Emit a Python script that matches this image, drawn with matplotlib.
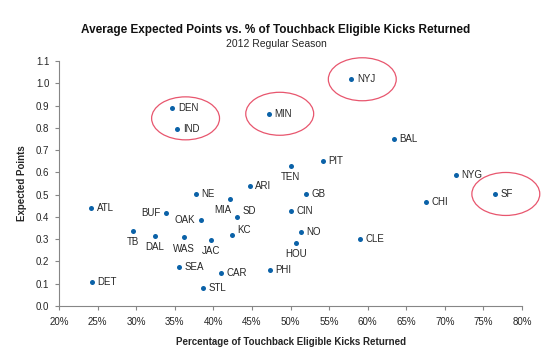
import matplotlib
matplotlib.use("Agg")
import matplotlib.pyplot as plt
from matplotlib.patches import Ellipse
from matplotlib.ticker import FuncFormatter, MultipleLocator

plt.rcParams['font.family'] = ['Liberation Sans', 'DejaVu Sans']

# data: share of touchback-eligible kicks returned (%) and avg expected points
teams = ['ATL', 'DET', 'TB', 'DAL', 'BUF', 'DEN', 'IND', 'SEA', 'WAS', 'NE', 'OAK',
         'STL', 'JAC', 'CAR', 'MIA', 'KC', 'SD', 'ARI', 'PHI', 'MIN', 'TEN', 'CIN',
         'HOU', 'NO', 'GB', 'PIT', 'NYJ', 'CLE', 'BAL', 'CHI', 'NYG', 'SF']
pct_returned = [24.2, 24.3, 29.6, 32.4, 33.9, 34.7, 35.3, 35.5, 36.2, 37.7, 38.4,
                38.7, 39.7, 41.0, 42.1, 42.4, 43.1, 44.7, 47.3, 47.2, 50.0, 50.0,
                50.7, 51.3, 52.0, 54.2, 57.9, 59.0, 63.4, 67.6, 71.4, 76.5]
exp_points = [0.441, 0.108, 0.338, 0.314, 0.416, 0.889, 0.796, 0.177, 0.308, 0.503, 0.386,
              0.081, 0.298, 0.150, 0.479, 0.317, 0.401, 0.539, 0.163, 0.863, 0.630, 0.427,
              0.283, 0.331, 0.502, 0.650, 1.018, 0.301, 0.750, 0.468, 0.588, 0.503]

# circled groups
highlights = [['DEN', 'IND'], ['MIN'], ['NYJ'], ['SF']]

# where each label sits relative to its dot (default: right)
label_pos = {'TB': 'below', 'DAL': 'below', 'WAS': 'below', 'JAC': 'below',
             'TEN': 'below', 'HOU': 'below', 'MIA': 'belowleft',
             'SD': 'upright', 'KC': 'upright', 'BUF': 'left', 'OAK': 'left'}

offsets = {'right': ((4, 0), 'left', 'center'),
           'left': ((-4, 0), 'right', 'center'),
           'below': ((0, -8), 'center', 'center'),
           'belowleft': ((-5, -8), 'center', 'center'),
           'upright': ((4, 4), 'left', 'center')}

dot_color = '#0B62A8'
axis_color = '#868686'
text_color = '#262626'

fig = plt.figure(figsize=(5.52, 3.54), dpi=100)
ax = fig.add_axes([0.1069, 0.1356, 0.8388, 0.6921])

ax.scatter(pct_returned, exp_points, s=13, color=dot_color, zorder=3, linewidths=0)

for team, x, y in zip(teams, pct_returned, exp_points):
    (dx, dy), ha, va = offsets[label_pos.get(team, 'right')]
    ax.annotate(team, (x, y), xytext=(dx, dy), textcoords='offset points',
                ha=ha, va=va, fontsize=7, color=text_color)

for group in highlights:
    xs = [pct_returned[teams.index(t)] for t in group]
    ys = [exp_points[teams.index(t)] for t in group]
    cx = sum(xs) / len(xs) + 1.4
    cy = sum(ys) / len(ys)
    ax.add_patch(Ellipse((cx, cy), 8.8, 0.193, fill=False, clip_on=False,
                         edgecolor='#E8566E', linewidth=0.9, zorder=2))

ax.set_xlim(20, 80)
ax.set_ylim(0, 1.1)
ax.xaxis.set_major_locator(MultipleLocator(5))
ax.yaxis.set_major_locator(MultipleLocator(0.1))
ax.xaxis.set_major_formatter(FuncFormatter(lambda v, p: f'{v:.0f}%'))
ax.yaxis.set_major_formatter(FuncFormatter(lambda v, p: f'{v:.1f}'))

for side in ['top', 'right']:
    ax.spines[side].set_visible(False)
for side in ['left', 'bottom']:
    ax.spines[side].set_color(axis_color)
    ax.spines[side].set_linewidth(0.8)
ax.tick_params(axis='both', direction='out', length=3, width=0.8, color=axis_color,
               labelsize=7, labelcolor=text_color)
ax.tick_params(axis='x', pad=5)
ax.tick_params(axis='y', pad=4)

ax.set_xlabel('Percentage of Touchback Eligible Kicks Returned', fontsize=7,
              fontweight='bold', color=text_color, labelpad=7)
ax.set_ylabel('Expected Points', fontsize=7, fontweight='bold', color=text_color,
              labelpad=6)

fig.text(0.5, 0.915, 'Average Expected Points vs. % of Touchback Eligible Kicks Returned',
         ha='center', va='center', fontsize=8.5, fontweight='bold', color='#111111')
fig.text(0.5, 0.876, '2012 Regular Season', ha='center', va='center', fontsize=7.5,
         color=text_color)

fig.savefig('out.png', dpi=100)
